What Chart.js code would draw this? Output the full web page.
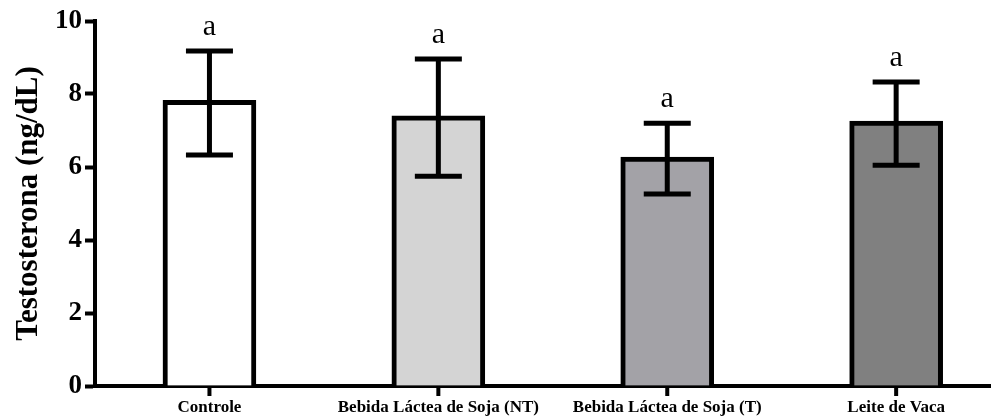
<!DOCTYPE html>
<html>
<head>
<meta charset="utf-8">
<script src="https://cdn.jsdelivr.net/npm/chart.js@4.4.1/dist/chart.umd.min.js"></script>
<style>
  html, body { margin: 0; padding: 0; background: #fff; overflow: hidden; }
  #wrap { width: 993px; height: 419px; position: relative; }
</style>
</head>
<body>
<div id="wrap"><canvas id="chart"></canvas></div>
<script>
// ---- data ----
const GROUPS = ['Controle', 'Bebida Láctea de Soja (NT)', 'Bebida Láctea de Soja (T)', 'Leite de Vaca'];
const MEANS = [7.83, 7.40, 6.27, 7.26];
const ERR_HIGH = [9.18, 8.96, 7.20, 8.33];
const ERR_LOW = [6.33, 5.75, 5.26, 6.05];
const LETTERS = ['a', 'a', 'a', 'a'];
const FILLS = ['#ffffff', '#d4d4d4', '#a3a2a7', '#808080'];
const Y_TICKS = [0, 2, 4, 6, 8, 10];

const SERIF = "'Liberation Serif', 'Times New Roman', serif";

// error bars, significance letters and the category tick marks
const errorBars = {
  id: 'errorBars',
  afterDraw(chart) {
    const { ctx, scales: { x, y } } = chart;
    const y0 = y.getPixelForValue(0);
    ctx.save();
    ctx.strokeStyle = '#000';
    ctx.fillStyle = '#000';
    GROUPS.forEach((g, i) => {
      const cx = x.getPixelForValue(i);
      const yt = y.getPixelForValue(ERR_HIGH[i]);
      const yb = y.getPixelForValue(ERR_LOW[i]);
      ctx.lineWidth = 5;
      ctx.beginPath();
      ctx.moveTo(cx, yt); ctx.lineTo(cx, yb);
      ctx.moveTo(cx - 23.5, yt); ctx.lineTo(cx + 23.5, yt);
      ctx.moveTo(cx - 23.5, yb); ctx.lineTo(cx + 23.5, yb);
      ctx.stroke();

      ctx.font = '30px ' + SERIF;
      ctx.textAlign = 'center';
      ctx.textBaseline = 'alphabetic';
      ctx.fillText(LETTERS[i], cx, yt - 16);

      // tick under the x axis
      ctx.lineWidth = 4;
      ctx.beginPath();
      ctx.moveTo(cx, y0); ctx.lineTo(cx, y0 + 10);
      ctx.stroke();
    });
    ctx.restore();
  }
};

new Chart(document.getElementById('chart'), {
  type: 'bar',
  data: {
    datasets: [{
      data: MEANS.map((v, i) => ({ x: i, y: v })),
      backgroundColor: FILLS,
      borderColor: '#000',
      borderWidth: 5,
      barThickness: 93
    }]
  },
  plugins: [errorBars],
  options: {
    responsive: true,
    maintainAspectRatio: false,
    animation: false,
    devicePixelRatio: 1,
    layout: { padding: { top: 21, right: 3, left: 0, bottom: 0 } },
    plugins: { legend: { display: false }, tooltip: { enabled: false } },
    scales: {
      x: {
        type: 'linear',
        min: -0.5,
        max: 3.41,
        offset: false,
        afterBuildTicks: s => { s.ticks = GROUPS.map((g, i) => ({ value: i })); },
        afterFit: s => { s.height = 33; },
        border: { display: true, color: '#000', width: 4 },
        grid: { display: false, drawTicks: true, tickLength: 9 },
        ticks: {
          autoSkip: false,
          maxRotation: 0,
          padding: 2,
          color: '#000',
          font: { family: SERIF, size: 17, weight: 'bold' },
          callback: v => GROUPS[v] ?? ''
        }
      },
      y: {
        min: 0,
        max: 10,
        afterBuildTicks: s => { s.ticks = Y_TICKS.map(v => ({ value: v })); },
        afterFit: s => { s.width = 95; },
        border: { display: true, color: '#000', width: 4 },
        grid: { display: true, drawOnChartArea: false, color: '#000', tickLength: 10, tickWidth: 4 },
        ticks: {
          padding: 3,
          color: '#000',
          font: { family: SERIF, size: 27, weight: 'bold' }
        },
        title: {
          display: true,
          text: 'Testosterona (ng/dL)',
          color: '#000',
          padding: { top: 10, bottom: 0 },
          font: { family: SERIF, size: 31, weight: 'bold' }
        }
      }
    }
  }
});
</script>
</body>
</html>
